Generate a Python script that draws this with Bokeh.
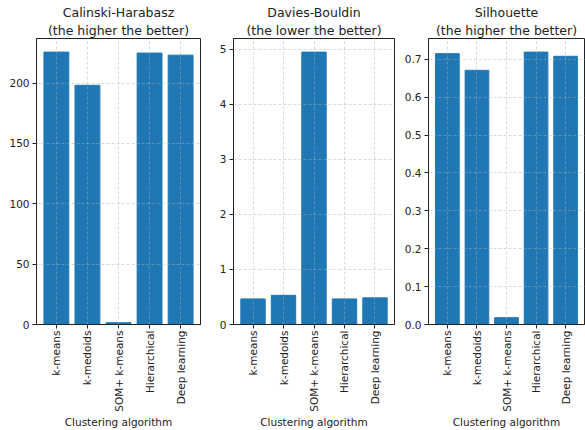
import math
from bokeh.plotting import figure
from bokeh.layouts import row
from bokeh.models import Range1d, FixedTicker, PrintfTickFormatter, Title
from bokeh.embed import file_html
from bokeh.resources import INLINE

algorithms = ["k-means", "k-medoids", "SOM+ k-means", "Hierarchical", "Deep learning"]
calinski = [225.6, 198.1, 1.5, 224.8, 223.1]
davies = [0.465, 0.53, 4.95, 0.465, 0.484]
silhouette = [0.715, 0.671, 0.018, 0.719, 0.708]

titles = [["Calinski-Harabasz", "(the higher the better)"],
          ["Davies-Bouldin", "(the lower the better)"],
          ["Silhouette", "(the higher the better)"]]
yticks = [[0, 50, 100, 150, 200], [0, 1, 2, 3, 4, 5],
          [0.0, 0.1, 0.2, 0.3, 0.4, 0.5, 0.6, 0.7]]
xlabel = "Clustering algorithm"

FONT = "DejaVu Sans"
TXT = "#222222"

specs = [
    dict(data=calinski, width=216, bl=36, br=16, fmt=None),
    dict(data=davies, width=184, bl=15, br=6, fmt=None),
    dict(data=silhouette, width=185, bl=28, br=1, fmt="%.1f"),
]

figs = []
for i, s in enumerate(specs):
    vals = s["data"]
    xs = list(range(len(algorithms)))
    p = figure(width=s["width"], height=430, output_backend="svg", toolbar_location=None,
               x_range=Range1d(-0.64, 4.64), y_range=Range1d(0, max(vals) * 1.05),
               min_border_left=s["bl"], min_border_right=s["br"],
               min_border_top=38, min_border_bottom=105, title=None)
    p.vbar(x=xs, top=vals, width=0.8, bottom=0, fill_color="#1f77b4", line_color="#1f77b4")
    for k, t in enumerate(reversed(titles[i])):
        p.add_layout(Title(text=t, align="center", text_font=FONT, text_font_size="12.5px",
                           text_font_style="normal", text_color=TXT,
                           standoff=2 if k == 0 else 0, offset=0), "above")
    p.outline_line_color = "#222222"
    p.outline_line_alpha = 1
    p.xaxis.ticker = FixedTicker(ticks=xs)
    p.xaxis.major_label_overrides = {j: a for j, a in enumerate(algorithms)}
    p.xaxis.major_label_orientation = math.pi / 2
    p.xaxis.axis_label = xlabel
    p.yaxis.ticker = FixedTicker(ticks=yticks[i])
    if s["fmt"]:
        p.yaxis.formatter = PrintfTickFormatter(format=s["fmt"])
    for ax in (p.xaxis[0], p.yaxis[0]):
        ax.major_label_text_font = FONT
        ax.major_label_text_font_size = "10.5px"
        ax.major_label_text_color = TXT
        ax.axis_label_text_font = FONT
        ax.axis_label_text_font_size = "10.5px"
        ax.axis_label_text_font_style = "normal"
        ax.axis_label_text_color = TXT
        ax.axis_line_color = "#222222"
        ax.major_tick_line_color = "#222222"
        ax.major_tick_out = 4
        ax.major_tick_in = 0
        ax.minor_tick_line_color = None
    p.xaxis.major_label_standoff = 2
    p.xaxis.axis_label_standoff = 1
    p.yaxis.major_label_standoff = 3
    for g in (p.xgrid[0], p.ygrid[0]):
        g.grid_line_color = "#b0b0b0"
        g.grid_line_alpha = 0.45
        g.grid_line_dash = "3 2"
        g.level = "annotation"
    figs.append(p)

layout = row(*figs, spacing=0)
open("out.html", "w").write(file_html(layout, INLINE))
